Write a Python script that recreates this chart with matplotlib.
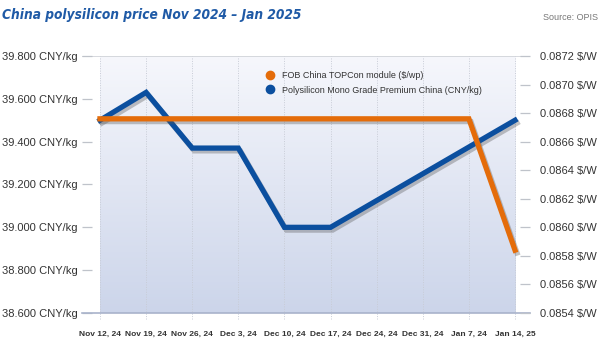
import numpy as np
import matplotlib.pyplot as plt
import matplotlib.patheffects as pe

# Datos
dates = ['Nov 12, 24', 'Nov 19, 24', 'Nov 26, 24', 'Dec 3, 24', 'Dec 10, 24',
         'Dec 17, 24', 'Dec 24, 24', 'Dec 31, 24', 'Jan 7, 24', 'Jan 14, 25']
poly_cny = [39.50, 39.63, 39.37, 39.37, 39.00, 39.00, 39.125, 39.25, 39.375, 39.50]
topcon_usd = [0.08676, 0.08676, 0.08676, 0.08676, 0.08676, 0.08676, 0.08676, 0.08676, 0.08676, 0.08584]
left_ticks = [38.6, 38.8, 39.0, 39.2, 39.4, 39.6, 39.8]
right_ticks = [0.0854, 0.0856, 0.0858, 0.0860, 0.0862, 0.0864, 0.0866, 0.0868, 0.0870, 0.0872]

plt.rcParams['font.family'] = ['Liberation Sans', 'DejaVu Sans']

blue = '#0b4f9f'
orange = '#e46c0a'
label_col = '#333333'

fig = plt.figure(figsize=(6, 3.59), dpi=100)
ax = fig.add_axes([82 / 600, 1 - 313 / 359, 448 / 600, 257 / 359])
ax2 = ax.twinx()

x = np.arange(len(dates))
ax.set_xlim(-0.39, 9.325)
ax.set_ylim(38.6, 39.8)
ax2.set_ylim(0.0854, 0.0872)

# Fondo degradado entre la primera y la ultima fecha
grad = np.linspace(0, 1, 256).reshape(-1, 1)
top_c = np.array([0.965, 0.969, 0.988])
bot_c = np.array([0.80, 0.835, 0.918])
img = top_c + (bot_c - top_c) * grad
ax.imshow(img.reshape(256, 1, 3), extent=[0, 9, 38.6, 39.8], aspect='auto', zorder=0)

# Lineas de cuadricula (punteadas, bajan un poco del eje)
ax.vlines(x, 38.57, 39.8, colors='#c8ccd6', lw=0.7, linestyles=(0, (1, 1.5)),
          zorder=1, clip_on=False)
ax.axhline(39.8, color='#cfd2d8', lw=1.2, zorder=1)

for s in ['top', 'left', 'right']:
    ax.spines[s].set_visible(False)
    ax2.spines[s].set_visible(False)
ax.spines['bottom'].set_color('#a9b3cb')
ax.spines['bottom'].set_linewidth(1.2)
ax2.spines['bottom'].set_visible(False)

shadow = [pe.SimpleLineShadow(offset=(1.5, -2), shadow_color='#555555', alpha=0.35),
          pe.Normal()]

ax.plot(x, poly_cny, color=blue, lw=3.8, solid_joinstyle='miter', zorder=3,
        path_effects=shadow)
ax2.plot(x, topcon_usd, color=orange, lw=3.8, solid_joinstyle='miter', zorder=3,
         path_effects=shadow)

# Ejes
ax.set_yticks(left_ticks)
ax.set_yticklabels([f'{v:.3f} CNY/kg' for v in left_ticks])
ax.tick_params(axis='y', direction='in', length=7.5, width=0.9, color='#bfc3ca',
               pad=3, labelsize=8, labelcolor=label_col)
ax2.set_yticks(right_ticks)
ax2.set_yticklabels([f'{v:.4f} $/W' for v in right_ticks])
ax2.tick_params(axis='y', direction='in', length=7.5, width=0.9, color='#bfc3ca',
                pad=7, labelsize=8, labelcolor=label_col)

ax.set_xticks(x)
ax.set_xticklabels(dates, fontweight='bold')
ax.tick_params(axis='x', length=0, pad=13, labelsize=6, labelcolor=label_col)

# Leyenda
ax.plot([], [], 'o', color=orange, ms=6, label='FOB China TOPCon module ($/wp)')
ax.plot([], [], 'o', color=blue, ms=6, label='Polysilicon Mono Grade Premium China (CNY/kg)')
leg = ax.legend(loc='upper left', bbox_to_anchor=(0.402, 0.955), frameon=False,
                fontsize=6.5, handletextpad=0.8, labelspacing=0.6,
                handlelength=1.0, borderaxespad=0)
for t in leg.get_texts():
    t.set_color(label_col)

fig.text(0.004, 0.958, 'China polysilicon price Nov 2024 \u2013 Jan 2025',
         family='DejaVu Sans', fontstretch='condensed',
         color='#1f5aa6', fontsize=9.8, fontweight='bold', fontstyle='italic',
         va='center', ha='left')
fig.text(0.997, 0.95, 'Source: OPIS', color='#777777', fontsize=6.5,
         va='center', ha='right')

fig.savefig('out.png', dpi=100)
